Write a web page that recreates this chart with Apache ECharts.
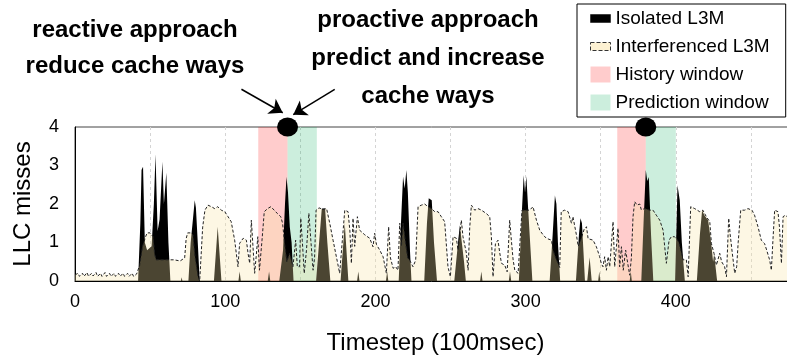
<!DOCTYPE html>
<html>
<head>
<meta charset="utf-8">
<script src="https://cdn.jsdelivr.net/npm/echarts@6/dist/echarts.min.js"></script>
<style>
  html, body { margin: 0; padding: 0; background: #fff; }
  #chart { width: 787px; height: 358px; }
</style>
</head>
<body>
<div id="chart"></div>
<script>
// LLC misses per timestep: [timestep, misses]
const isolatedL3M = [
  [0,0],[42,0],[43.5,1.5],[44.3,2.88],[45.3,2.97],[46.5,1.0],[48,0.8],[51,0.9],[52.5,2.0],[53.6,3.29],
  [55,1.3],[56.3,1.6],[58.2,3.1],[59.2,2.0],[60.8,2.81],[62.2,1.0],[63.5,0],[70.5,0],[71,0.1],[71.5,0],
  [75.5,0],[77,1.0],[78.5,1.6],[79.7,2.1],[80.5,1.9],[82,0.8],[83,0],[92.5,0],[95,1.41],[97.5,0],
  [108.8,0],[109.6,0.25],[110.4,0],[128.3,0],[129.2,0.25],[130,0],[136,0],[138.5,0.8],[139.8,2.0],
  [140.8,2.71],[141.8,2.3],[143,1.4],[144.2,1.0],[145.5,0],[160.5,0],[162.5,1.0],[164.3,1.88],
  [166.5,1.88],[168,1.0],[170,0],[176.8,0],[179.6,1.5],[182,0],[187.8,0],[188.6,0.25],[189.4,0],
  [207,0],[207.8,0.25],[208.6,0],[215.5,0],[217,1.5],[218.4,2.71],[219.5,2.4],[220.6,2.88],[221.6,2.3],
  [223,0.8],[224,0],[232.5,0],[234.3,1.5],[235.5,2.15],[236.5,2.2],[237.5,2.1],[239,1.0],[241,0],
  [252.5,0],[255,1.0],[256.2,1.45],[257.2,1.4],[259,0.5],[260.2,0],[269.7,0],[270.5,0.25],[271.3,0],
  [288.8,0],[289.6,0.25],[290.4,0],[295.5,0],[297.5,1.8],[298.7,2.75],[299.6,2.3],[300.5,2.72],
  [301.5,2.0],[303.3,0.8],[304.5,0],[316,0],[318,1.2],[319.5,2.22],[320.5,2.0],[321.5,1.0],[323,0],
  [333.5,0],[335.5,1.2],[336.5,1.63],[337.5,1.5],[338.6,0.7],[339.5,0],[341,0],[342.6,0.62],[344,0],
  [348.3,0],[349,0.25],[349.7,0],[369.3,0],[370,0.25],[370.7,0],[377,0],[378.5,1.5],[380,2.88],
  [381,2.6],[382,2.7],[383.5,1.2],[385,0],[399.5,0],[400.5,1.5],[401.1,2.49],[402.6,2.1],[404,1.0],
  [405,0.5],[406,0],[414,0],[416,1.2],[417.5,1.84],[419,1.71],[421.5,1.58],[423.5,1.0],[424.8,0.5],
  [425.5,0.7],[427.5,0],[480,0]
];

const interferencedL3M = [
  [0,0.16],[2,0.2],[3,0.12],[5,0.2],[6,0.12],[8,0.22],[9,0.12],[11,0.2],[12,0.13],[14,0.22],[15,0.12],
  [17,0.2],[18,0.12],[20,0.22],[21,0.12],[23,0.2],[24,0.12],[26,0.2],[27,0.12],[29,0.2],[30,0.12],
  [32,0.2],[33,0.12],[35,0.2],[36,0.12],[38,0.2],[39,0.12],[41,0.18],[43,0.4],[45,0.9],[47,1.15],
  [48,1.25],[50,1.25],[52,1.15],[53,0.7],[54,0.55],[60,0.55],[66,0.55],[70,0.52],[73,0.6],[74,1.1],
  [75,1.25],[77,1.25],[78.5,1.2],[80,0.6],[82,0.1],[83,0],[85,1.4],[86.5,1.84],[88.5,1.97],[90.8,1.93],
  [93,1.88],[95,1.93],[97.4,1.84],[99.7,1.8],[101.9,1.67],[104,1.54],[106.3,1.06],[108.5,0.37],
  [109.6,0.98],[112,1.11],[114.1,1.06],[115.2,0.72],[116.3,0.46],[117.4,1.58],[118.5,0.89],[119.6,0.2],
  [120.6,0.63],[121.7,1.15],[122.8,0.28],[124.5,1.06],[126,1.8],[128.2,1.88],[130.4,1.93],[132.6,1.84],
  [134.8,1.75],[137,1.67],[138.2,1.5],[139.5,1.0],[141,0.5],[142.9,0.72],[145.1,0.37],[146.9,1.06],
  [148,0.37],[149.5,0.37],[150.3,1.63],[151.3,1.06],[152.6,0.2],[154.1,0.8],[155.7,1.76],[157,1.06],
  [158.5,0.28],[159.5,0.6],[160.5,1.84],[162.5,1.9],[165,1.86],[167.5,1.88],[169.6,1.5],[171.8,1.06],
  [174,0.63],[176.2,0.2],[177.5,0.2],[179.6,1.84],[181.8,1.8],[183,1.3],[184,0.46],[185.1,1.63],
  [186.2,0.9],[188,1.67],[189.5,1.32],[192.9,1.2],[196.2,1.11],[198.4,0.89],[199.5,1.24],[200.7,0.95],
  [202.9,0.8],[205.1,0.63],[207.3,0.2],[208.8,1.41],[210,0.6],[211.8,0.33],[213.5,0.37],[215,0.28],
  [216.2,1.5],[217.3,0.9],[218.4,1.5],[220,1.0],[221.5,0.6],[222.8,0.54],[225,0.37],[226.8,0.54],
  [228.4,1.93],[230.6,1.97],[232.8,2.0],[235,1.93],[237.3,1.88],[239.5,1.8],[241.7,1.8],[243.9,1.67],
  [246.1,1.54],[248.3,0.37],[249.9,0.11],[251.7,1.15],[253.9,1.11],[255,0.8],[257.2,1.58],[258.3,1.15],
  [260.6,0.72],[261.7,0.28],[262.8,1.4],[263.9,1.97],[266.1,1.84],[268.3,1.88],[270.6,1.84],[273.9,1.75],
  [276.1,1.67],[277.2,1.15],[278.3,0.11],[279.9,0.97],[281.6,1.06],[282.7,0.75],[283.9,0.46],[286.1,0.41],
  [287.7,0.24],[289.4,1.58],[290.5,1.06],[291.7,0.54],[292.8,0.28],[295,0.2],[296.6,1.24],[297.6,1.84],
  [300.5,1.84],[302.7,1.84],[304.9,1.93],[307.2,1.58],[309.4,1.32],[311.6,1.2],[313.8,1.11],[317.2,1.06],
  [318.3,0.8],[320,0.6],[322.7,0.35],[323.7,1.8],[326,1.84],[328.3,1.8],[330.5,1.5],[331.5,1.67],
  [332.7,1.63],[333.8,1.2],[335,0.9],[337,1.1],[339,1.35],[340.5,1.41],[341.6,1.1],[342.7,1.15],
  [344.9,1.06],[347.1,0.89],[349.3,0.63],[350.4,0.45],[351.5,0.37],[352.6,0.63],[353.8,0.28],[354.9,0.63],
  [356,0.37],[358.2,1.54],[359.3,0.37],[361.5,1.37],[362.6,0.37],[363.8,0.89],[365,0.28],[366.6,0.8],
  [368,0.45],[369.3,0.15],[370.4,0.6],[371.5,1.67],[372.6,2.06],[374.2,1.97],[376,2.0],[377,1.85],
  [379.3,1.88],[382.6,1.84],[384.8,1.84],[387,1.71],[389.3,1.58],[391.5,1.32],[393.7,0.46],[395.5,1.06],
  [397,1.15],[399,1.15],[400.5,1.1],[402,1.0],[404.8,0.55],[407,0.55],[408.2,0.11],[409.9,1.93],
  [412.6,1.88],[415.9,1.8],[418,1.84],[420.3,1.67],[422.6,1.54],[423.7,0.97],[425.4,0.72],[427,0.41],
  [428,0.55],[429.2,0.72],[430.5,0.5],[432.5,0.37],[433.7,0.11],[435.2,1.63],[436.2,1.2],[437.6,0.72],
  [439.2,0.2],[440.5,0.37],[441.5,1.0],[443.2,1.84],[445.8,1.84],[448,1.88],[450.7,1.84],[452.4,1.71],
  [454.7,1.41],[456.9,1.06],[459.1,0.97],[460.5,0.8],[462.5,0.54],[463.6,0.28],[464.7,1.1],[465.8,1.84],
  [468,1.8],[469,1.4],[470.3,0.46],[471.4,1.67],[472.9,1.71],[476,1.6],[480,1.6]
];

// Windows as [start, end] timesteps
const historyWindows = [[122, 141.5], [361, 380]];
const predictionWindows = [[141.5, 161], [380, 400]];

// Decision points on the top edge
const eventPoints = [[141.5, 4], [380, 4]];

// Arrows from the annotations to the first decision point: [tail, head]
const arrowPaths = [
  [[110.8, 4.98], [138.3, 4.37]],
  [[172.9, 4.98], [145.3, 4.32]]
];

const reactiveText = ['reactive approach', 'reduce cache ways'];
const proactiveText = ['proactive approach', 'predict and increase', 'cache ways'];

const X_MAX = 480;
const X_LABEL_STEP = 100;
const FONT = '"Liberation Sans", Arial, sans-serif';

const chart = echarts.init(document.getElementById('chart'));

const annotationTexts = [];
reactiveText.forEach((t, i) => annotationTexts.push({
  type: 'text', x: 135, y: 30 + i * 36,
  style: { text: t, fill: '#000', font: 'bold 24px ' + FONT, align: 'center', verticalAlign: 'middle' }
}));
proactiveText.forEach((t, i) => annotationTexts.push({
  type: 'text', x: 428, y: 20 + i * 38,
  style: { text: t, fill: '#000', font: 'bold 24px ' + FONT, align: 'center', verticalAlign: 'middle' }
}));

// legend swatches: thin bars for the series, squares for the windows
const BAR_ICON = 'path://M0,0H20V8H0Z';
const SQUARE_ICON = 'path://M0,0H20V16H0Z';

chart.setOption({
  animation: false,
  grid: {
    left: 75, top: 127, bottom: 77, right: -9,
    containLabel: false,
    outerBoundsMode: 'none',
    show: true, borderColor: '#444', borderWidth: 1, backgroundColor: 'transparent'
  },
  legend: {
    orient: 'vertical',
    left: 577, top: 4,
    itemWidth: 20, itemHeight: 16, itemGap: 9,
    padding: [5, 16, 5, 13],
    borderColor: '#000', borderWidth: 1,
    backgroundColor: '#fff',
    selectedMode: false,
    textStyle: { fontSize: 19, fontFamily: FONT, color: '#000' },
    data: [
      { name: 'Isolated L3M', icon: BAR_ICON,
        itemStyle: { color: '#000', borderColor: '#000', borderWidth: 0.5, borderType: 'solid' } },
      { name: 'Interferenced L3M', icon: BAR_ICON,
        itemStyle: { color: 'rgb(253,241,210)', borderColor: '#333', borderWidth: 1, borderType: 'dashed' } },
      { name: 'History window', icon: SQUARE_ICON,
        itemStyle: { color: 'rgba(255,0,0,0.2)', borderWidth: 0 } },
      { name: 'Prediction window', icon: SQUARE_ICON,
        itemStyle: { color: 'rgba(0,170,85,0.2)', borderWidth: 0 } }
    ]
  },
  xAxis: {
    type: 'value', min: 0, max: X_MAX, interval: 50,
    name: 'Timestep (100msec)', nameLocation: 'middle', nameGap: 50,
    nameTextStyle: { fontSize: 24, fontFamily: FONT, color: '#000' },
    axisLine: { show: true, onZero: false, lineStyle: { color: '#000', width: 1 } },
    axisTick: { show: false },
    axisLabel: {
      fontSize: 18, fontFamily: FONT, color: '#000', margin: 12,
      formatter: v => (v % X_LABEL_STEP === 0 ? String(v) : '')
    },
    splitLine: { show: true, lineStyle: { color: '#d4d4d4', type: [3, 3], width: 1 } }
  },
  yAxis: {
    type: 'value', min: 0, max: 4, interval: 1,
    name: 'LLC misses', nameLocation: 'middle', nameGap: 40,
    nameTextStyle: { fontSize: 24, fontFamily: FONT, color: '#000' },
    axisLine: { show: true, lineStyle: { color: '#000', width: 1 } },
    axisTick: { show: false },
    axisLabel: { fontSize: 18, fontFamily: FONT, color: '#000', margin: 16 },
    splitLine: { show: false }
  },
  graphic: annotationTexts,
  series: [
    {
      name: 'Isolated L3M', type: 'line', data: isolatedL3M, z: 2,
      symbol: 'none', lineStyle: { width: 0 },
      itemStyle: { color: '#000' },
      areaStyle: { color: '#000', opacity: 1 }
    },
    {
      name: 'Interferenced L3M', type: 'line', data: interferencedL3M, z: 3,
      symbol: 'none',
      itemStyle: { color: 'rgb(253,241,210)' },
      lineStyle: { color: '#222', width: 1, type: [3, 2] },
      areaStyle: { color: 'rgba(250,227,167,0.3)', opacity: 1 }
    },
    {
      name: 'History window', type: 'line', data: [], z: 4,
      itemStyle: { color: 'rgba(255,0,0,0.2)' },
      markArea: {
        silent: true,
        itemStyle: { color: 'rgba(255,0,0,0.2)' },
        data: historyWindows.map(([a, b]) => [{ xAxis: a }, { xAxis: b }])
      }
    },
    {
      name: 'Prediction window', type: 'line', data: [], z: 4,
      itemStyle: { color: 'rgba(0,170,85,0.2)' },
      markArea: {
        silent: true,
        itemStyle: { color: 'rgba(0,170,85,0.2)' },
        data: predictionWindows.map(([a, b]) => [{ xAxis: a }, { xAxis: b }])
      }
    },
    {
      name: 'Decision point', type: 'scatter', data: eventPoints, z: 6,
      symbol: 'circle', symbolSize: [21, 19], clip: false,
      itemStyle: { color: '#000', opacity: 1 }
    },
    {
      name: 'Annotation arrows', type: 'lines', coordinateSystem: 'cartesian2d', z: 7,
      clip: false,
      symbol: ['none', 'arrow'], symbolSize: 13,
      lineStyle: { color: '#000', width: 1.5, opacity: 1 },
      data: arrowPaths.map(p => ({ coords: p }))
    }
  ]
});
</script>
</body>
</html>
